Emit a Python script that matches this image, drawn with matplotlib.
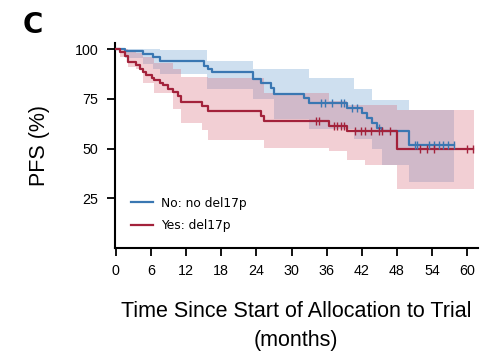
import numpy as np
import matplotlib
matplotlib.use("Agg")
import matplotlib.pyplot as plt
from matplotlib.lines import Line2D

# --- Kaplan-Meier estimates (PFS, %) by del17p status ---
# No: no del17p
no_t = [0, 1.5, 4.6, 6.3, 7.5, 15.1, 15.7, 16.5, 23.4, 24.8, 26.5, 27.0,
        32.1, 33.0, 39.5, 42.1, 42.9, 43.8, 44.6, 45.5, 50.0]
no_s = [100, 98.8, 97.5, 95.8, 94.0, 91.5, 89.9, 88.5, 85.1, 83.1, 80.6, 77.2,
        75.5, 73.0, 70.4, 67.9, 65.4, 62.8, 60.3, 58.6, 51.9]
no_end = 57.7
no_cens = [35.0, 35.8, 36.9, 38.4, 38.9, 40.4, 41.2, 44.9, 51.1, 51.4,
           53.4, 54.3, 55.1, 55.9, 56.8, 57.7]

# Yes: del17p
yes_t = [0, 0.7, 1.5, 2.1, 3.5, 4.1, 4.6, 5.2, 6.1, 6.6, 7.5, 8.0, 8.9, 9.7,
         10.6, 11.2, 14.8, 15.7, 24.8, 25.3, 36.4, 39.5, 48.0]
yes_s = [100, 98.6, 96.6, 93.6, 91.9, 90.2, 88.5, 86.8, 85.6, 84.4, 83.1,
         81.8, 80.1, 78.4, 76.3, 73.3, 71.3, 68.7, 66.5, 64.0, 61.1, 58.6, 49.8]
yes_end = 61.0
yes_cens = [34.1, 34.7, 37.2, 37.8, 38.4, 38.9, 40.9, 41.8, 42.6, 43.5,
            44.9, 45.5, 46.9, 52.0, 53.1, 54.3, 59.9, 61.0]

# 95% confidence bands (step functions)
no_band_t = [0, 1.5, 4.6, 6.3, 7.5, 15.5, 23.4, 27.0, 33.0, 40.6, 43.8, 45.4, 50.0]
no_hi = [100, 100, 100, 100, 99.5, 94, 90, 90, 85.5, 80, 74.6, 74.6, 69.6]
no_lo = [100, 95.5, 92.5, 90, 87.5, 80, 75, 65, 60, 55, 50, 41.7, 33.2]

yes_band_t = [0, 0.7, 2.1, 3.5, 4.6, 6.6, 9.7, 11.2, 14.8, 15.7, 25.3, 36.4,
              39.5, 42.6, 48.0]
yes_hi = [100, 100, 99, 98, 96, 93, 90, 86, 86, 85.5, 78, 74, 72, 72, 69.6]
yes_lo = [100, 96, 91, 89.9, 83, 78, 70, 62.8, 59.5, 54.4, 50.2, 48.5, 44.2,
          41.7, 29.9]
yes_band_end = 61.1

x_ticks = [0, 6, 12, 18, 24, 30, 36, 42, 48, 54, 60]
y_ticks = [25, 50, 75, 100]
labels = ["No: no del17p", "Yes: del17p"]

blue = "#3a77b2"
red = "#a3223b"
blue_fill = "#5f98cd"
red_fill = "#d76273"

narrow = ["Liberation Sans Narrow", "Liberation Sans", "DejaVu Sans"]
plt.rcParams["font.family"] = ["Liberation Sans", "DejaVu Sans"]

fig = plt.figure(figsize=(4.87, 3.54), dpi=100)
ax = fig.add_axes([0.236, 0.2994, 0.745, 0.579])


def ext(t, v, end):
    return list(t) + [end], list(v) + [v[-1]]


def step_val(t, s, x):
    i = np.searchsorted(t, x, side="right") - 1
    return np.asarray(s)[i]


# bands
bt, bh = ext(no_band_t, no_hi, no_end)
_, bl = ext(no_band_t, no_lo, no_end)
ax.fill_between(bt, bl, bh, step="post", color=blue_fill, alpha=0.3, lw=0, zorder=1)
rt, rh = ext(yes_band_t, yes_hi, yes_band_end)
_, rl = ext(yes_band_t, yes_lo, yes_band_end)
ax.fill_between(rt, rl, rh, step="post", color=red_fill, alpha=0.3, lw=0, zorder=1)

# survival curves
for t, s, end, cens, c in [(no_t, no_s, no_end, no_cens, blue),
                           (yes_t, yes_s, yes_end, yes_cens, red)]:
    xt, ys = ext(t, s, end)
    ax.step(xt, ys, where="post", color=c, lw=1.6, zorder=3)
    cy = step_val(t, s, np.array(cens))
    ax.plot(cens, cy, ls="none", marker="|", ms=6, mew=1.0, color=c, zorder=4)

ax.set_xlim(-0.15, 61.8)
ax.set_ylim(0, 103)
ax.set_xticks(x_ticks)
ax.set_yticks(y_ticks)
ax.spines["top"].set_visible(False)
ax.spines["right"].set_visible(False)
for sp in ("left", "bottom"):
    ax.spines[sp].set_linewidth(1.5)
ax.tick_params(axis="both", direction="out", length=5.8, width=1.3, labelsize=10.3)
ax.tick_params(axis="y", pad=6)
ax.tick_params(axis="x", pad=5.5)

ax.set_ylabel("PFS (%)", family=narrow, fontsize=15.5, labelpad=18)
ax.set_xlabel("Time Since Start of Allocation to Trial\n(months)", family=narrow,
              fontsize=15.5, labelpad=17, linespacing=1.45)

handles = [Line2D([], [], color=blue, lw=1.6), Line2D([], [], color=red, lw=1.6)]
ax.legend(handles, labels, loc="upper left", bbox_to_anchor=(0.045, 0.25),
          frameon=False, borderpad=0, borderaxespad=0, handlelength=1.8,
          handletextpad=0.65, labelspacing=0.75,
          prop={"family": "DejaVu Sans", "size": 8.8})

fig.text(0.047, 0.907, "C", fontsize=20, fontweight="bold", family="DejaVu Sans",
         va="baseline")

fig.savefig("out.png", dpi=100)
